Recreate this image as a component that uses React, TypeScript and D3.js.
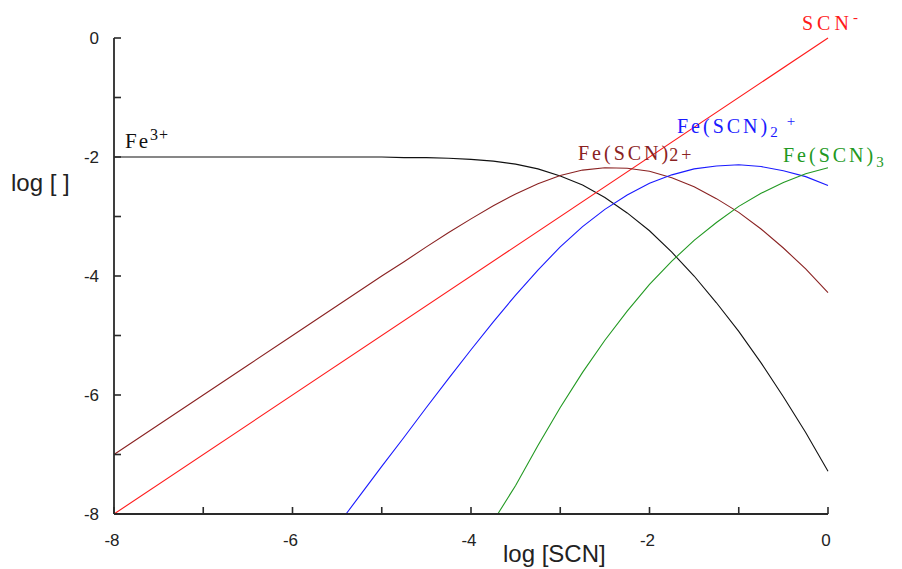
import React from "react";
import * as d3 from "d3";

// log [SCN] values and the log concentration of each species
const xSteps = [-8, -7.5, -7, -6.5, -6, -5.5, -5, -4.75, -4.5, -4.25, -4, -3.75, -3.5, -3.25, -3, -2.75, -2.5, -2.25, -2, -1.75, -1.5, -1.25, -1, -0.75, -0.5, -0.25, 0];

const fe3 = [-2, -2, -2, -2, -2, -2.0, -2.0, -2.01, -2.01, -2.02, -2.04, -2.07, -2.12, -2.2, -2.32, -2.47, -2.68, -2.94, -3.24, -3.6, -4.0, -4.45, -4.93, -5.46, -6.03, -6.63, -7.28];
const feSCN = [-7.0, -6.5, -6.0, -5.5, -5.0, -4.5, -4.0, -3.76, -3.51, -3.27, -3.04, -2.82, -2.62, -2.45, -2.31, -2.22, -2.18, -2.19, -2.24, -2.35, -2.5, -2.7, -2.93, -3.21, -3.53, -3.88, -4.28];

const scnX = [-8, 0];
const scnY = [-8, 0];

const feSCN2X = [-5.4, -5.25, -5, -4.75, -4.5, -4.25, -4, -3.75, -3.5, -3.25, -3, -2.75, -2.5, -2.25, -2, -1.75, -1.5, -1.25, -1, -0.75, -0.5, -0.25, 0];
const feSCN2 = [-8.0, -7.7, -7.2, -6.71, -6.21, -5.72, -5.24, -4.77, -4.32, -3.9, -3.51, -3.17, -2.88, -2.64, -2.44, -2.3, -2.2, -2.15, -2.13, -2.16, -2.23, -2.33, -2.48];

const feSCN3X = [-3.7, -3.5, -3.25, -3, -2.75, -2.5, -2.25, -2, -1.75, -1.5, -1.25, -1, -0.75, -0.5, -0.25, 0];
const feSCN3 = [-8.0, -7.52, -6.85, -6.21, -5.62, -5.08, -4.59, -4.14, -3.75, -3.4, -3.1, -2.83, -2.61, -2.43, -2.28, -2.18];

const xTicks = [-8, -7, -6, -5, -4, -3, -2, -1, 0];
const yTicks = [-8, -7, -6, -5, -4, -3, -2, -1, 0];
const xTickLabels = ["-8", "-6", "-4", "-2", "0"];
const yTickLabels = ["-8", "-6", "-4", "-2", "0"];

const width = 902;
const height = 569;

const App: React.FC = () => {
  const x = d3.scaleLinear().domain([-8, 0]).range([114, 828]);
  const y = d3.scaleLinear().domain([-8, 0]).range([514, 38]);

  const line = d3
    .line<[number, number]>()
    .x((d) => x(d[0]))
    .y((d) => y(d[1]));

  const series = [
    { key: "fe3", pts: xSteps.map((v, i) => [v, fe3[i]] as [number, number]), color: "#111111" },
    { key: "scn", pts: scnX.map((v, i) => [v, scnY[i]] as [number, number]), color: "#ff1a1a" },
    { key: "feSCN", pts: xSteps.map((v, i) => [v, feSCN[i]] as [number, number]), color: "#8a2222" },
    { key: "feSCN2", pts: feSCN2X.map((v, i) => [v, feSCN2[i]] as [number, number]), color: "#1a1aff" },
    { key: "feSCN3", pts: feSCN3X.map((v, i) => [v, feSCN3[i]] as [number, number]), color: "#229922" },
  ];

  const sans = "'Liberation Sans', Arial, sans-serif";
  const serif = "'Liberation Serif', 'Times New Roman', serif";
  const axisColor = "#2a2a2a";

  return (
    <svg
      width={width}
      height={height}
      style={{ position: "absolute", left: 0, top: 0, background: "#fff" }}
    >
      {/* curves */}
      {series.map((s) => (
        <path key={s.key} d={line(s.pts) || ""} fill="none" stroke={s.color} strokeWidth={1.1} />
      ))}

      {/* y axis */}
      <line x1={x(-8)} y1={y(-8)} x2={x(-8)} y2={y(0)} stroke={axisColor} strokeWidth={1.8} />
      {yTicks.map((t) => (
        <line key={t} x1={x(-8)} y1={y(t)} x2={x(-8) + 7} y2={y(t)} stroke={axisColor} strokeWidth={1.6} />
      ))}
      {yTickLabels.map((t) => (
        <text
          key={t}
          x={99}
          y={y(+t)}
          dy="0.36em"
          textAnchor="end"
          fontFamily={sans}
          fontSize={17}
          fill="#222"
        >
          {t}
        </text>
      ))}

      {/* x axis */}
      <line x1={x(-8)} y1={y(-8)} x2={x(0)} y2={y(-8)} stroke={axisColor} strokeWidth={1.8} />
      {xTicks.map((t) => (
        <line key={t} x1={x(t)} y1={y(-8)} x2={x(t)} y2={y(-8) - 7} stroke={axisColor} strokeWidth={1.6} />
      ))}
      {xTickLabels.map((t) => (
        <text
          key={t}
          x={x(+t) - 2}
          y={546}
          textAnchor="middle"
          fontFamily={sans}
          fontSize={17}
          fill="#222"
        >
          {t}
        </text>
      ))}

      {/* axis titles */}
      <text x={11} y={191} fontFamily={sans} fontSize={24} fill="#222">
        log [ ]
      </text>
      <text x={503} y={562} fontFamily={sans} fontSize={24} fill="#222">
        log [SCN]
      </text>

      {/* species labels */}
      <text x={125} y={148} fontFamily={serif} fontSize={21} letterSpacing={2} fill="#111">
        Fe
        <tspan fontSize={16} dy={-8} letterSpacing={1}>3+</tspan>
      </text>
      <text x={802} y={30} fontFamily={serif} fontSize={20} letterSpacing={4} fill="#ff1a1a">
        SCN
        <tspan fontSize={15} dy={-8}>-</tspan>
      </text>
      <text x={677} y={133} fontFamily={serif} fontSize={20} letterSpacing={3} fill="#1a1aff">
        Fe(SCN)
        <tspan fontSize={15} dy={4}>2</tspan>
        <tspan fontSize={15} dx={6} dy={-11}>+</tspan>
      </text>
      <text x={578} y={160} fontFamily={serif} fontSize={20} letterSpacing={3} fill="#8a2222">
        Fe(SCN)
        <tspan fontSize={18} dx={-2} dy={1}>2+</tspan>
      </text>
      <text x={783} y={162} fontFamily={serif} fontSize={20} letterSpacing={3} fill="#229922">
        Fe(SCN)
        <tspan fontSize={15} dy={5}>3</tspan>
      </text>
    </svg>
  );
};

export default App;
